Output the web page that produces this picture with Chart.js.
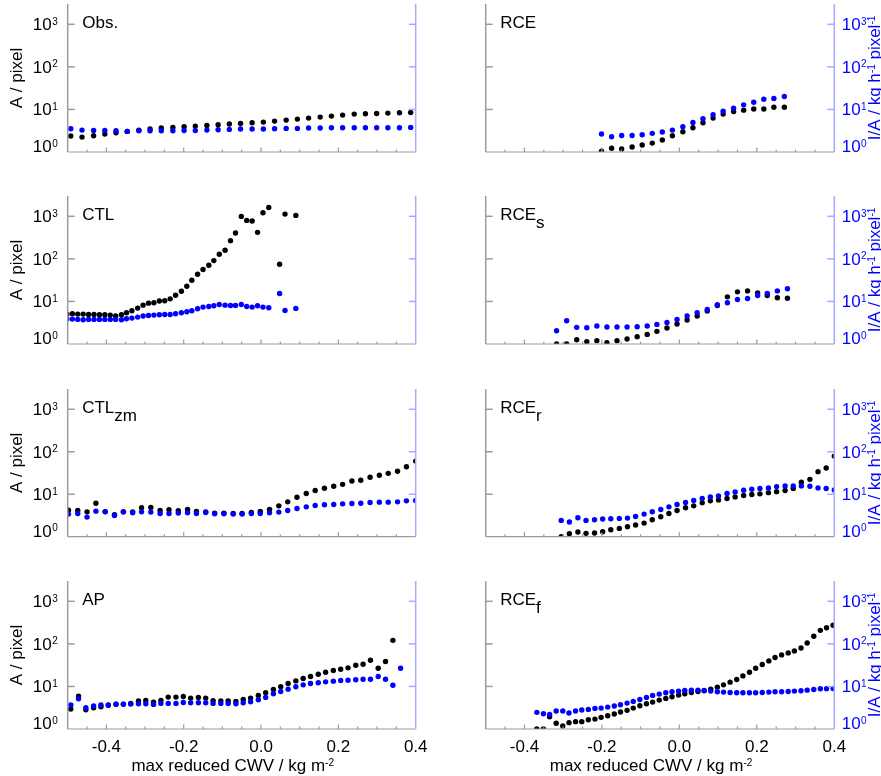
<!DOCTYPE html>
<html>
<head>
<meta charset="utf-8">
<title>A and I/A against max reduced CWV</title>
<script src="https://cdn.jsdelivr.net/npm/chart.js@4.4.0/dist/chart.umd.min.js"></script>
<style>
  html, body { margin: 0; padding: 0; background: #fff; }
  #wrap { position: relative; width: 881px; height: 776px; overflow: hidden; }
  #wrap canvas { position: absolute; }
</style>
</head>
<body>
<div id="wrap"></div>
<script>
// ---- data: x = max reduced CWV, A (black, left axis), I/A (blue, right axis)
const obsX = [-0.492, -0.463, -0.433, -0.404, -0.375, -0.346, -0.316, -0.287, -0.258, -0.228, -0.199, -0.170, -0.140, -0.111, -0.082, -0.053, -0.023, 0.006, 0.035, 0.065, 0.094, 0.123, 0.153, 0.182, 0.211, 0.241, 0.270, 0.299, 0.328, 0.358, 0.387];
const obsA = [2.37, 2.24, 2.41, 2.64, 2.83, 3.05, 3.27, 3.46, 3.65, 3.78, 3.92, 4.06, 4.21, 4.36, 4.53, 4.69, 4.86, 5.04, 5.32, 5.61, 5.93, 6.25, 6.6, 6.97, 7.36, 7.76, 7.9, 8.05, 8.2, 8.35, 8.5];
const obsIA = [3.52, 3.27, 3.21, 3.21, 3.16, 3.05, 3.16, 3.16, 3.16, 3.16, 3.21, 3.21, 3.27, 3.33, 3.4, 3.46, 3.46, 3.46, 3.52, 3.58, 3.58, 3.65, 3.65, 3.71, 3.71, 3.71, 3.71, 3.71, 3.71, 3.71, 3.78];

const rceX = [-0.201, -0.175, -0.149, -0.122, -0.096, -0.070, -0.044, -0.018, 0.009, 0.035, 0.061, 0.087, 0.113, 0.140, 0.166, 0.192, 0.218, 0.244, 0.271];
const rceA = [1.04, 1.22, 1.18, 1.31, 1.46, 1.62, 1.91, 2.41, 2.99, 3.71, 4.86, 6.25, 7.76, 8.96, 9.63, 10.2, 10.2, 11.3, 11.3];
const rceIA = [2.64, 2.28, 2.45, 2.45, 2.55, 2.74, 2.94, 3.27, 3.92, 4.95, 6.03, 7.48, 9.12, 10.7, 12.8, 14.8, 17.4, 18.1, 20.1];

const ctlX = [-0.502, -0.488, -0.474, -0.460, -0.446, -0.432, -0.418, -0.404, -0.390, -0.376, -0.361, -0.348, -0.334, -0.319, -0.305, -0.291, -0.277, -0.263, -0.249, -0.235, -0.221, -0.206, -0.192, -0.179, -0.164, -0.150, -0.135, -0.122, -0.108, -0.093, -0.079, -0.066, -0.051, -0.037, -0.023, -0.009, 0.005, 0.020, 0.048, 0.062, 0.090];
const ctlA = [5.04, 5.13, 5.04, 5.04, 4.95, 4.95, 4.86, 4.86, 4.78, 4.53, 4.86, 5.42, 6.04, 6.97, 8.19, 9.12, 9.29, 10.2, 10.35, 11.5, 14.0, 17.4, 22.8, 31.5, 43.6, 56.1, 70.8, 91, 128, 159, 268, 405, 995, 802, 773, 420, 1213, 1616, 74.8, 1127, 1050];
const ctlIA = [3.85, 3.85, 3.78, 3.71, 3.78, 3.78, 3.78, 3.78, 3.78, 3.78, 3.71, 3.92, 4.06, 4.29, 4.53, 4.69, 4.78, 4.86, 4.95, 4.95, 5.13, 5.42, 5.72, 6.04, 6.73, 7.36, 7.63, 7.9, 8.49, 8.19, 8.05, 8.05, 8.49, 7.63, 7.36, 7.9, 7.36, 7.1, 15.4, 6.15, 6.86];

const rcesX = [-0.317, -0.291, -0.265, -0.239, -0.213, -0.187, -0.161, -0.135, -0.109, -0.083, -0.058, -0.032, -0.006, 0.020, 0.046, 0.072, 0.098, 0.124, 0.150, 0.176, 0.202, 0.227, 0.253, 0.279];
const rcesA = [1.0, 1.0, 1.26, 1.13, 1.20, 1.07, 1.20, 1.31, 1.49, 1.68, 1.98, 2.37, 2.94, 3.65, 4.53, 5.93, 8.05, 12.8, 16.8, 17.7, 15.9, 13.8, 12.2, 11.9];
const rcesIA = [2.05, 3.52, 2.46, 2.41, 2.64, 2.50, 2.50, 2.50, 2.55, 2.64, 2.89, 3.22, 3.78, 4.53, 5.42, 6.49, 8.34, 9.29, 11.1, 11.7, 13.8, 15.4, 17.7, 19.8];

const ctlzmX = [-0.498, -0.474, -0.450, -0.427, -0.403, -0.379, -0.356, -0.332, -0.309, -0.285, -0.261, -0.238, -0.214, -0.190, -0.167, -0.143, -0.120, -0.096, -0.072, -0.049, -0.025, -0.002, 0.022, 0.046, 0.069, 0.093, 0.117, 0.140, 0.164, 0.188, 0.211, 0.235, 0.258, 0.282, 0.306, 0.329, 0.353, 0.376, 0.400];
const ctlzmA = [4.22, 4.14, 3.85, 6.15, 3.9, 3.3, 3.9, 3.85, 4.79, 4.87, 4.14, 4.30, 4.07, 4.37, 3.93, 3.85, 3.59, 3.59, 3.53, 3.53, 3.72, 3.93, 4.37, 5.33, 6.61, 8.51, 10.4, 12.2, 13.8, 15.4, 17.1, 20.5, 21.3, 25.0, 27.9, 31.0, 34.6, 44.5, 60.2];
const ctlzmIA = [3.40, 3.53, 2.89, 4.0, 3.85, 3.16, 3.79, 3.65, 3.85, 3.79, 3.53, 3.53, 3.59, 3.65, 3.53, 3.72, 3.46, 3.46, 3.40, 3.40, 3.53, 3.53, 3.65, 3.79, 4.14, 4.62, 5.05, 5.43, 5.63, 5.73, 5.94, 6.04, 6.15, 6.38, 6.50, 6.50, 6.61, 6.98, 7.1];

const rcerX = [-0.305, -0.284, -0.262, -0.241, -0.219, -0.198, -0.177, -0.155, -0.134, -0.113, -0.091, -0.070, -0.048, -0.027, -0.006, 0.016, 0.037, 0.059, 0.080, 0.101, 0.123, 0.144, 0.166, 0.187, 0.208, 0.230, 0.251, 0.273, 0.294, 0.315, 0.337, 0.358, 0.379, 0.400];
const rcerA = [1.0, 1.18, 1.29, 1.20, 1.22, 1.31, 1.46, 1.57, 1.72, 1.88, 2.09, 2.51, 2.94, 3.52, 4.14, 4.79, 5.33, 6.27, 6.98, 7.36, 7.91, 8.65, 9.30, 9.82, 10.2, 10.9, 11.5, 12.2, 13.6, 19.1, 22.4, 34.0, 41.4, 79.0];
const rcerIA = [2.42, 2.21, 2.79, 2.42, 2.51, 2.60, 2.64, 2.69, 2.74, 3.0, 3.40, 3.86, 4.37, 5.05, 5.73, 6.38, 7.11, 7.91, 8.65, 9.14, 10.4, 11.3, 12.4, 13.1, 13.6, 14.1, 15.1, 15.7, 15.7, 15.7, 15.4, 14.1, 13.6, 12.6];

const apX = [-0.492, -0.472, -0.453, -0.433, -0.414, -0.395, -0.375, -0.356, -0.337, -0.317, -0.298, -0.278, -0.259, -0.240, -0.220, -0.201, -0.182, -0.162, -0.143, -0.124, -0.104, -0.085, -0.065, -0.046, -0.027, -0.007, 0.012, 0.032, 0.051, 0.070, 0.090, 0.109, 0.128, 0.148, 0.167, 0.187, 0.206, 0.225, 0.245, 0.264, 0.283, 0.303, 0.322, 0.341, 0.361];
const apA = [2.94, 5.93, 2.84, 3.16, 3.33, 3.6, 3.8, 3.8, 3.99, 4.53, 4.69, 4.29, 4.69, 5.61, 5.61, 5.82, 5.32, 5.52, 5.32, 4.61, 4.53, 4.53, 4.45, 4.95, 5.32, 6.15, 7.1, 8.49, 9.8, 11.7, 13.5, 15.4, 17.1, 19.4, 21.6, 23.6, 25.4, 27.3, 31.5, 33.3, 41.3, 26.8, 38.4, 121, null];
const apIA = [3.65, 5.13, 3.16, 3.46, 3.65, 3.65, 3.85, 3.85, 3.85, 3.92, 3.92, 3.78, 3.99, 3.99, 3.99, 4.21, 4.14, 4.14, 4.14, 3.99, 3.99, 3.99, 3.92, 4.14, 4.37, 4.86, 5.52, 6.72, 7.63, 8.64, 9.8, 10.9, 11.7, 12.2, 12.8, 13.3, 13.8, 14.0, 14.3, 14.8, 14.8, 17.1, 14.8, 10.7, 26.8];

const rcefX = [-0.368, -0.351, -0.335, -0.318, -0.301, -0.285, -0.268, -0.252, -0.235, -0.218, -0.202, -0.185, -0.168, -0.152, -0.135, -0.119, -0.102, -0.085, -0.069, -0.052, -0.035, -0.019, -0.002, 0.014, 0.031, 0.048, 0.064, 0.081, 0.098, 0.114, 0.131, 0.148, 0.164, 0.181, 0.197, 0.214, 0.231, 0.247, 0.264, 0.281, 0.297, 0.314, 0.330, 0.347, 0.364, 0.380, 0.397];
const rcefA = [1.0, 1.0, 1.94, 1.36, 1.18, 1.41, 1.49, 1.49, 1.65, 1.71, 1.88, 2.05, 2.25, 2.50, 2.74, 3.10, 3.52, 3.92, 4.29, 4.78, 5.23, 5.72, 6.25, 6.72, 7.22, 7.62, 7.90, 8.64, 9.63, 10.9, 12.6, 14.6, 17.7, 21.6, 26.8, 32.7, 39.8, 47.7, 55.0, 61.3, 68.3, 80.3, 105, 151, 208, 240, 273];
const rcefIA = [2.46, 2.29, 2.20, 2.64, 2.64, 2.37, 2.64, 2.79, 2.89, 3.05, 3.10, 3.27, 3.46, 3.71, 4.06, 4.45, 4.95, 5.52, 6.15, 6.60, 7.10, 7.48, 7.76, 8.05, 8.19, 8.19, 8.05, 7.76, 7.48, 7.36, 7.22, 7.10, 7.10, 7.10, 7.10, 7.22, 7.36, 7.48, 7.48, 7.62, 7.76, 7.90, 8.19, 8.49, 8.81, 8.81, 8.97];

// ---- ticks
const xMajorTicks = [-0.4, -0.2, 0, 0.2, 0.4];
const xTickLabels = ['-0.4', '-0.2', '0.0', '0.2', '0.4'];
const xMinorTicks = [-0.45, -0.4, -0.35, -0.3, -0.25, -0.2, -0.15, -0.1, -0.05, 0, 0.05, 0.1, 0.15, 0.2, 0.25, 0.3, 0.35];
const yDecades = [1, 10, 100, 1000];
const yExponents = ['0', '1', '2', '3'];

const panels = [
  { name: 'Obs.', sub: '', x: obsX, a: obsA, ia: obsIA, row: 0, col: 0 },
  { name: 'RCE', sub: '', x: rceX, a: rceA, ia: rceIA, row: 0, col: 1 },
  { name: 'CTL', sub: '', x: ctlX, a: ctlA, ia: ctlIA, row: 1, col: 0 },
  { name: 'RCE', sub: 's', x: rcesX, a: rcesA, ia: rcesIA, row: 1, col: 1 },
  { name: 'CTL', sub: 'zm', x: ctlzmX, a: ctlzmA, ia: ctlzmIA, row: 2, col: 0 },
  { name: 'RCE', sub: 'r', x: rcerX, a: rcerA, ia: rcerIA, row: 2, col: 1 },
  { name: 'AP', sub: '', x: apX, a: apA, ia: apIA, row: 3, col: 0 },
  { name: 'RCE', sub: 'f', x: rcefX, a: rcefA, ia: rcefIA, row: 3, col: 1 }
];

// ---- layout
const FONT = '"Liberation Sans", Arial, Helvetica, sans-serif';
const MAIN = '17px ' + FONT;
const SUPF = '10px ' + FONT;
const GRAY = '#9c9c9c';
const LBLUE = '#a9a9ff';
const BLUE = '#0000ff';

const colLeft = [0, 440], colWidth = [440, 441];
const colPad = [{ left: 67.7, right: 24.3 }, { left: 45.7, right: 46.7 }];
const rowTop = [0, 192, 385, 577], rowHeight = [192, 193, 192, 199];
const rowPad = [{ top: 4, bottom: 40 }, { top: 4, bottom: 41 }, { top: 3.7, bottom: 40.3 }, { top: 4, bottom: 47 }];

function seg(ctx, x1, y1, x2, y2) {
  ctx.beginPath(); ctx.moveTo(x1, y1); ctx.lineTo(x2, y2); ctx.stroke();
}

// text made of normal / superscript / subscript pieces, centred on (cx, cy), optionally rotated
function rich(ctx, parts, cx, cy, angle, color) {
  ctx.save();
  ctx.translate(cx, cy);
  ctx.rotate(angle);
  ctx.fillStyle = color;
  ctx.textAlign = 'left';
  ctx.textBaseline = 'alphabetic';
  let total = 0;
  const ws = parts.map(p => {
    ctx.font = p.sup ? SUPF : MAIN;
    const w = ctx.measureText(p.t).width;
    total += w;
    return w;
  });
  let x = -total / 2;
  parts.forEach((p, i) => {
    ctx.font = p.sup ? SUPF : MAIN;
    ctx.fillText(p.t, x, p.sup ? 1 : 6);
    x += ws[i];
  });
  ctx.restore();
}

function decadeLabel(ctx, x, yb, exp, alignRight, color) {
  ctx.fillStyle = color;
  ctx.textAlign = 'left';
  ctx.textBaseline = 'alphabetic';
  ctx.font = MAIN;
  const wb = ctx.measureText('10').width;
  ctx.font = SUPF;
  const we = ctx.measureText(exp).width;
  const x0 = alignRight ? x - we - wb - 0.5 : x;
  ctx.font = MAIN;
  ctx.fillText('10', x0, yb);
  ctx.font = SUPF;
  ctx.fillText(exp, x0 + wb + 0.5, yb - 5.4);
}

function makeFrame(p) {
  return {
    id: 'frame',
    afterDraw(chart) {
      const ctx = chart.ctx;
      const a = chart.chartArea;
      const xs = chart.scales.x, ys = chart.scales.y, ys2 = chart.scales.y2;
      ctx.save();

      // bottom axis, ticks pointing inwards
      ctx.strokeStyle = GRAY;
      ctx.lineWidth = 1.2;
      seg(ctx, a.left, a.bottom, a.right, a.bottom);
      xMinorTicks.forEach(v => {
        const px = xs.getPixelForValue(v);
        seg(ctx, px, a.bottom, px, a.bottom - (xMajorTicks.includes(v) ? 4.5 : 2.5));
      });

      // left axis
      ctx.lineWidth = 1.5;
      seg(ctx, a.left, a.top, a.left, a.bottom);
      yDecades.slice(1).forEach(v => {
        const py = ys.getPixelForValue(v);
        seg(ctx, a.left, py, a.left + 7, py);
      });

      // right axis
      ctx.strokeStyle = LBLUE;
      seg(ctx, a.right, a.top, a.right, a.bottom);
      yDecades.slice(1).forEach(v => {
        const py = ys2.getPixelForValue(v);
        seg(ctx, a.right, py, a.right - 7, py);
      });

      const midY = (a.top + a.bottom) / 2;
      if (p.col === 0) {
        yDecades.forEach((v, i) => {
          const py = ys.getPixelForValue(v);
          decadeLabel(ctx, a.left - 10, i === 0 ? py : py + 6, yExponents[i], true, '#000');
        });
        rich(ctx, [{ t: 'A / pixel' }], 16, midY, -Math.PI / 2, '#000');
      } else {
        yDecades.forEach((v, i) => {
          const py = ys2.getPixelForValue(v);
          decadeLabel(ctx, a.right + 7.4, i === 0 ? py : py + 6, yExponents[i], false, BLUE);
        });
        rich(ctx, [{ t: 'I/A / kg h' }, { t: '-1', sup: true }, { t: ' pixel' }, { t: '-1', sup: true }],
          a.right + 39.5, midY, -Math.PI / 2, BLUE);
      }

      // panel name with optional subscript
      ctx.fillStyle = '#000';
      ctx.textAlign = 'left';
      ctx.textBaseline = 'alphabetic';
      ctx.font = MAIN;
      const nx = a.left + 14.5, ny = a.top + 23.6;
      ctx.fillText(p.name, nx, ny);
      if (p.sub) ctx.fillText(p.sub, nx + ctx.measureText(p.name).width, ny + 8.5);

      // x tick labels and title on the bottom row
      if (p.row === 3) {
        ctx.textAlign = 'center';
        ctx.font = MAIN;
        xMajorTicks.forEach((v, i) => {
          ctx.fillText(xTickLabels[i], xs.getPixelForValue(v), a.bottom + 22.7);
        });
        rich(ctx, [{ t: 'max reduced CWV / kg m' }, { t: '-2', sup: true }],
          (a.left + a.right) / 2 - 9, a.bottom + 36, 0, '#000');
      }
      ctx.restore();
    }
  };
}

function pts(xv, yv) {
  const out = [];
  xv.forEach((x, i) => { if (yv[i] != null) out.push({ x: x, y: yv[i] }); });
  return out;
}

const wrap = document.getElementById('wrap');
panels.forEach(p => {
  const c = document.createElement('canvas');
  c.width = colWidth[p.col];
  c.height = rowHeight[p.row];
  c.style.left = colLeft[p.col] + 'px';
  c.style.top = rowTop[p.row] + 'px';
  c.style.width = c.width + 'px';
  c.style.height = c.height + 'px';
  wrap.appendChild(c);

  new Chart(c.getContext('2d'), {
    type: 'scatter',
    data: {
      datasets: [
        { label: 'I/A', data: pts(p.x, p.ia), yAxisID: 'y2', backgroundColor: BLUE,
          pointRadius: 2.7, pointBorderWidth: 0, order: 0, clip: 0 },
        { label: 'A', data: pts(p.x, p.a), yAxisID: 'y', backgroundColor: '#000',
          pointRadius: 2.7, pointBorderWidth: 0, order: 1, clip: 0 }
      ]
    },
    options: {
      responsive: false,
      animation: false,
      devicePixelRatio: 1,
      layout: { padding: { left: colPad[p.col].left, right: colPad[p.col].right,
                           top: rowPad[p.row].top, bottom: rowPad[p.row].bottom } },
      plugins: { legend: { display: false }, tooltip: { enabled: false } },
      scales: {
        x: { type: 'linear', min: -0.5, max: 0.4, display: false },
        y: { type: 'logarithmic', min: 1, max: 3000, display: false },
        y2: { type: 'logarithmic', min: 1, max: 3000, display: false, position: 'right' }
      }
    },
    plugins: [makeFrame(p)]
  });
});
</script>
</body>
</html>
